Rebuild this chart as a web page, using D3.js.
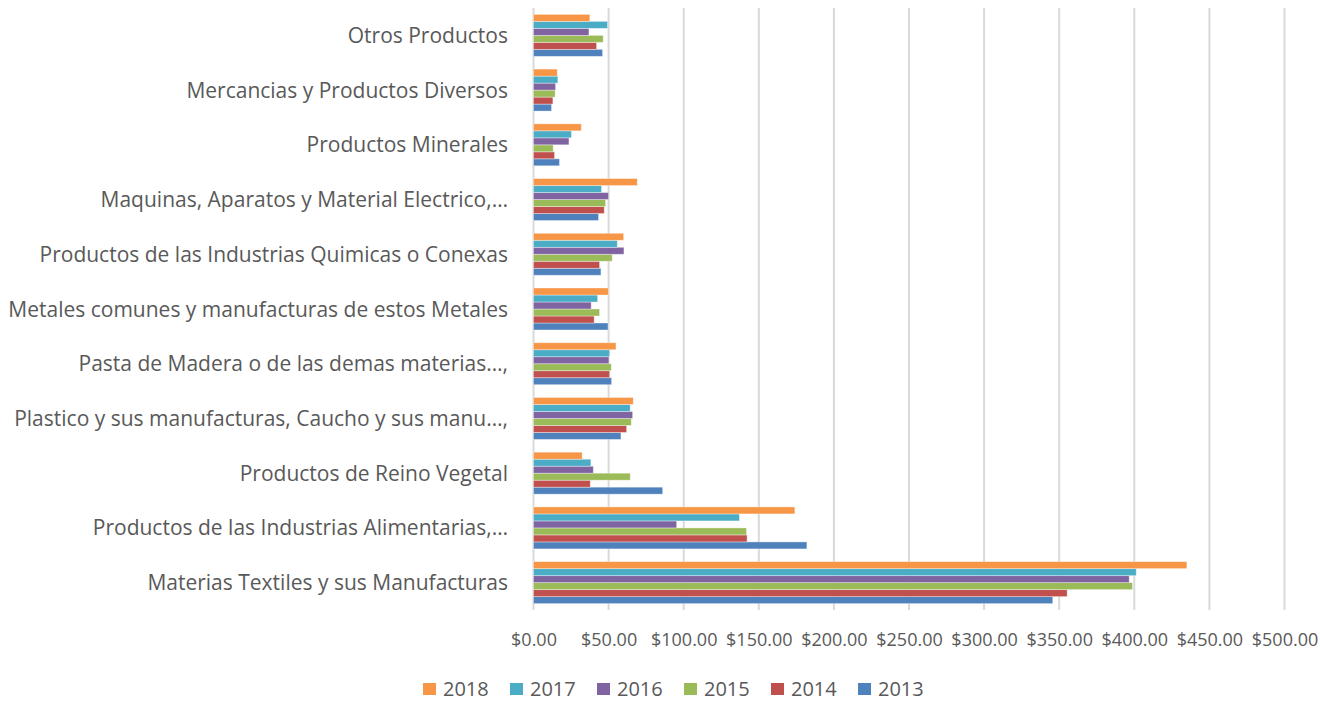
<!DOCTYPE html>
<html>
<head>
<meta charset="utf-8">
<script src="https://cdnjs.cloudflare.com/ajax/libs/d3/7.8.5/d3.min.js"></script>
<style>
  body { margin: 0; background: #fff; }
  text { font-family: "Open Sans", sans-serif; fill: #595959; }
</style>
</head>
<body>
<div class="chart"></div>
<script>
// Data (categories listed bottom to top, as in the source chart)
var categories = [
  "Materias Textiles y sus Manufacturas",
  "Productos de las Industrias Alimentarias,…",
  "Productos de Reino Vegetal",
  "Plastico y sus manufacturas, Caucho y sus manu…,",
  "Pasta de Madera o de las demas materias…,",
  "Metales comunes y manufacturas de estos Metales",
  "Productos de las Industrias Quimicas o Conexas",
  "Maquinas, Aparatos y Material Electrico,…",
  "Productos Minerales",
  "Mercancias y Productos Diversos",
  "Otros Productos"
];

var years = ["2013", "2014", "2015", "2016", "2017", "2018"];

var values2013 = [345.7, 182.0, 86.0, 58.2, 52.0, 49.6, 44.9, 43.3, 17.3, 12.0, 46.0];
var values2014 = [355.3, 142.2, 37.8, 62.0, 50.7, 40.4, 44.0, 47.1, 14.0, 12.9, 42.0];
var values2015 = [398.8, 141.8, 64.4, 65.1, 51.8, 44.0, 52.4, 48.0, 13.1, 14.4, 46.4];
var values2016 = [396.6, 95.3, 39.8, 66.0, 50.2, 38.4, 60.2, 50.0, 23.6, 14.7, 36.9];
var values2017 = [401.3, 137.1, 38.2, 64.4, 50.7, 42.7, 55.8, 45.3, 25.3, 16.2, 49.3];
var values2018 = [435.0, 174.0, 32.4, 66.4, 54.9, 49.8, 60.0, 69.1, 31.8, 15.8, 37.5];

var tickValues = [0, 50, 100, 150, 200, 250, 300, 350, 400, 450, 500];

var seriesValues = [values2013, values2014, values2015, values2016, values2017, values2018];
var colors = ["#4F81BD", "#C0504D", "#9BBB59", "#8064A2", "#4BACC6", "#F79646"];

// Chart setup
var svgWidth = 1320;
var svgHeight = 701;
var plot = { left: 533.5, right: 1284.5, top: 8, bottom: 610 };

var svg = d3.select(".chart")
  .append("svg")
  .attr("width", svgWidth)
  .attr("height", svgHeight);

var xScale = d3.scaleLinear().domain([0, 500]).range([plot.left, plot.right]);

// top category is the last one
var yScale = d3.scaleBand()
  .domain(categories.slice().reverse())
  .range([plot.top, plot.bottom])
  .paddingInner(0.233)
  .paddingOuter(0.1165);

// 2018 drawn on top inside each group
var ySeries = d3.scaleBand()
  .domain(years.slice().reverse())
  .range([0, yScale.bandwidth()]);

// gridlines
svg.append("g")
  .selectAll("line")
  .data(tickValues)
  .enter()
  .append("line")
  .attr("x1", function(d) { return xScale(d); })
  .attr("x2", function(d) { return xScale(d); })
  .attr("y1", plot.top)
  .attr("y2", plot.bottom)
  .attr("stroke", "#d9d9d9")
  .attr("stroke-width", 2);

// bars
var rows = [];
categories.forEach(function(cat, ci) {
  years.forEach(function(yr, si) {
    rows.push({ category: cat, year: yr, value: seriesValues[si][ci], color: colors[si] });
  });
});

svg.append("g")
  .selectAll("rect")
  .data(rows)
  .enter()
  .append("rect")
  .attr("x", xScale(0))
  .attr("y", function(d) { return yScale(d.category) + ySeries(d.year); })
  .attr("width", function(d) { return xScale(d.value) - xScale(0); })
  .attr("height", ySeries.bandwidth())
  .attr("fill", function(d) { return d.color; })
  .attr("stroke", "rgba(255,255,255,0.45)")
  .attr("stroke-width", 0.8);

// x axis labels
var bottomAxis = d3.axisBottom(xScale)
  .tickValues(tickValues)
  .tickSize(0)
  .tickPadding(0)
  .tickFormat(function(d) { return "$" + d3.format(".2f")(d); });

var xAxis = svg.append("g")
  .attr("transform", "translate(0," + 646 + ")")
  .call(bottomAxis);
xAxis.select(".domain").remove();
xAxis.selectAll("text")
  .attr("dy", 0)
  .attr("y", 0)
  .style("font-size", "18px")
  .style("font-family", "'Open Sans', sans-serif")
  .attr("fill", "#595959");

// category labels
var leftAxis = d3.axisLeft(yScale).tickSize(0).tickPadding(0);
var yAxis = svg.append("g")
  .attr("transform", "translate(" + 508 + ",0)")
  .call(leftAxis);
yAxis.select(".domain").remove();
yAxis.selectAll("text")
  .attr("dy", "0.36em")
  .style("font-size", "21px")
  .style("font-family", "'Open Sans', sans-serif")
  .attr("fill", "#595959");

// legend (2018 first)
var legend = svg.append("g")
  .selectAll("g")
  .data(years.slice().reverse())
  .enter()
  .append("g")
  .attr("transform", function(d, i) { return "translate(" + (423 + i * 87) + ",683)"; });

legend.append("rect")
  .attr("width", 13)
  .attr("height", 12)
  .attr("fill", function(d) { return colors[years.indexOf(d)]; });

legend.append("text")
  .attr("x", 20)
  .attr("y", 12.5)
  .style("font-size", "20px")
  .text(function(d) { return d; });
</script>
</body>
</html>
